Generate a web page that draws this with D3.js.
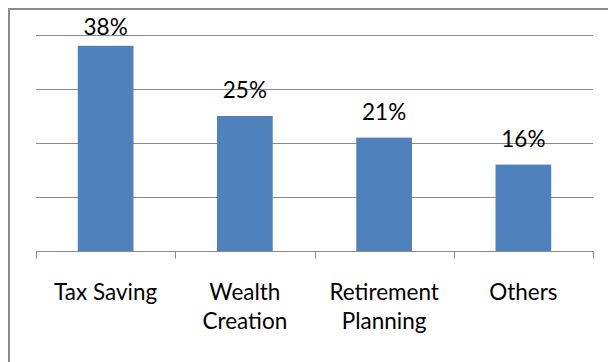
<!DOCTYPE html>
<html>
<head>
<meta charset="utf-8">
<script src="https://cdn.jsdelivr.net/npm/d3@7"></script>
<style>
  html, body { margin: 0; padding: 0; background: #ffffff; }
  svg { display: block; }
  text { font-family: Lato, "Open Sans", sans-serif; fill: #000; }
</style>
</head>
<body>
<div id="chart"></div>
<script>
// Share of investors by primary investment goal
const categories = ["Tax Saving", "Wealth Creation", "Retirement Planning", "Others"];
const categoryLines = [["Tax Saving"], ["Wealth", "Creation"], ["Retirement", "Planning"], ["Others"]];
const values = [38, 25, 21, 16];
const gridTicks = [0, 10, 20, 30, 40];

const width = 608, height = 362;
const margin = { top: 35, right: 15, bottom: 111, left: 36 };
const fontSize = 22.5;

const svg = d3.select("#chart").append("svg")
  .attr("width", width)
  .attr("height", height);

// outer chart frame
svg.append("rect")
  .attr("x", 9).attr("y", 9)
  .attr("width", width + 20).attr("height", height + 20)
  .attr("fill", "none")
  .attr("stroke", "#8a8a8a")
  .attr("stroke-width", 2);

const x = d3.scaleBand()
  .domain(categories)
  .range([margin.left, width - margin.right])
  .paddingInner(0.6)
  .paddingOuter(0.3);

const y = d3.scaleLinear()
  .domain([0, 40])
  .range([height - margin.bottom, margin.top]);

// horizontal gridlines
svg.append("g")
  .selectAll("line")
  .data(gridTicks.filter(t => t > 0))
  .join("line")
  .attr("x1", margin.left)
  .attr("x2", width - margin.right)
  .attr("y1", d => Math.round(y(d)) + 0.5)
  .attr("y2", d => Math.round(y(d)) + 0.5)
  .attr("stroke", "#8a8a8a")
  .attr("stroke-width", 1);

// bars
svg.append("g")
  .selectAll("rect")
  .data(values)
  .join("rect")
  .attr("x", (d, i) => x(categories[i]))
  .attr("y", d => y(d))
  .attr("width", x.bandwidth())
  .attr("height", d => y(0) - y(d))
  .attr("fill", "#4f81bd");

// category axis with tick marks on the band boundaries
const axisY = Math.round(y(0)) + 0.5;
const axis = svg.append("g");
axis.append("line")
  .attr("x1", margin.left).attr("x2", width - margin.right)
  .attr("y1", axisY).attr("y2", axisY)
  .attr("stroke", "#8a8a8a");
const step = (width - margin.right - margin.left) / categories.length;
axis.selectAll("line.tick")
  .data(d3.range(categories.length + 1))
  .join("line")
  .attr("class", "tick")
  .attr("x1", i => Math.round(margin.left + i * step) + 0.5)
  .attr("x2", i => Math.round(margin.left + i * step) + 0.5)
  .attr("y1", axisY)
  .attr("y2", axisY + 7)
  .attr("stroke", "#8a8a8a");

// category labels
const catG = svg.append("g")
  .selectAll("text")
  .data(categoryLines)
  .join("text")
  .attr("text-anchor", "middle")
  .attr("font-size", fontSize)
  .attr("x", (d, i) => x(categories[i]) + x.bandwidth() / 2)
  .attr("y", 300);
catG.selectAll("tspan")
  .data(d => d)
  .join("tspan")
  .attr("x", function () { return d3.select(this.parentNode).attr("x"); })
  .attr("dy", (d, j) => j === 0 ? 0 : 29)
  .text(d => d);

// value labels above bars, kept inside the plot area
svg.append("g")
  .selectAll("text")
  .data(values)
  .join("text")
  .attr("text-anchor", "middle")
  .attr("font-size", fontSize)
  .attr("x", (d, i) => x(categories[i]) + x.bandwidth() / 2)
  .attr("y", d => Math.max(y(d) - 18, y(40)))
  .text(d => d + "%");
</script>
</body>
</html>
